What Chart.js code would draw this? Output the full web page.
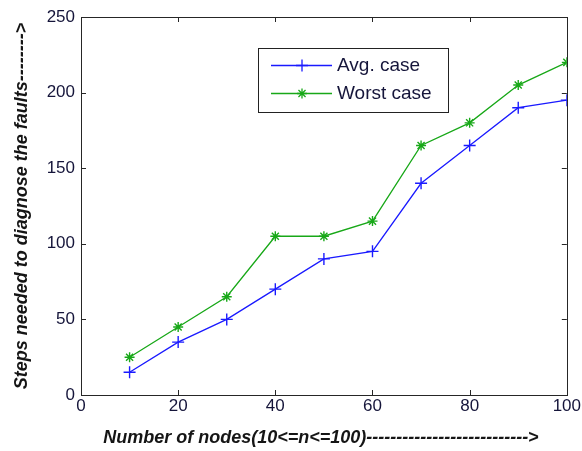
<!DOCTYPE html>
<html>
<head>
<meta charset="utf-8">
<script src="https://cdn.jsdelivr.net/npm/chart.js@4"></script>
<style>
html,body{margin:0;padding:0;background:#fff;}
#c{display:block;}
</style>
</head>
<body>
<canvas id="c" width="582" height="451"></canvas>
<script>
const nodes = [10, 20, 30, 40, 50, 60, 70, 80, 90, 100];
const avgCase = [15, 35, 50, 70, 90, 95, 140, 165, 190, 195];
const worstCase = [25, 45, 65, 105, 105, 115, 165, 180, 205, 220];
const xTicks = [0, 20, 40, 60, 80, 100];
const yTicks = [0, 50, 100, 150, 200, 250];
const seriesNames = ['Avg. case', 'Worst case'];
const xTitle = 'Number of nodes(10<=n<=100)--------------------------->';
const yTitle = 'Steps needed to diagnose the faults-------->';

const FONT = '"Liberation Sans", Arial, Helvetica, sans-serif';
const BLUE = '#1a1aff';
const GREEN = '#18a818';
const AXIS = '#262626';

function toXY(ys){ return nodes.map((x,i)=>({x:x, y:ys[i]})); }

function drawMarker(ctx, style, x, y, r, color){
  ctx.save();
  ctx.strokeStyle = color; ctx.lineWidth = 1.3;
  ctx.beginPath();
  ctx.moveTo(x-r, y); ctx.lineTo(x+r, y);
  ctx.moveTo(x, y-r); ctx.lineTo(x, y+r);
  if (style === 'star'){
    const d = r*Math.SQRT1_2;
    ctx.moveTo(x-d, y-d); ctx.lineTo(x+d, y+d);
    ctx.moveTo(x-d, y+d); ctx.lineTo(x+d, y-d);
  }
  ctx.stroke();
  ctx.restore();
}

const framePlugin = {
  id: 'frame',
  afterDraw(chart){
    const ctx = chart.ctx;
    const a = chart.chartArea;
    const xs = chart.scales.x, ys = chart.scales.y;
    ctx.save();
    ctx.strokeStyle = AXIS; ctx.lineWidth = 1;
    ctx.strokeRect(Math.round(a.left)+0.5, Math.round(a.top)+0.5, Math.round(a.right-a.left), Math.round(a.bottom-a.top));
    ctx.beginPath();
    const tl = 5;
    xTicks.forEach(v=>{
      if (v === xs.min || v === xs.max) return;
      const px = Math.round(xs.getPixelForValue(v))+0.5;
      ctx.moveTo(px, a.bottom); ctx.lineTo(px, a.bottom-tl);
      ctx.moveTo(px, a.top); ctx.lineTo(px, a.top+tl);
    });
    yTicks.forEach(v=>{
      if (v === ys.min || v === ys.max) return;
      const py = Math.round(ys.getPixelForValue(v))+0.5;
      ctx.moveTo(a.left, py); ctx.lineTo(a.left+tl, py);
      ctx.moveTo(a.right, py); ctx.lineTo(a.right-tl, py);
    });
    ctx.stroke();

    // axis titles
    ctx.fillStyle = '#151515';
    ctx.font = 'italic bold 18px ' + FONT;
    ctx.textAlign = 'center'; ctx.textBaseline = 'middle';
    ctx.fillText(xTitle, (a.left+a.right)/2 - 3, 438);
    ctx.save();
    ctx.translate(22, (a.top+a.bottom)/2);
    ctx.rotate(-Math.PI/2);
    ctx.fillText(yTitle, 0, 0);
    ctx.restore();

    // legend
    const lx = 258.5, ly = 48.5, lw = 190, lh = 64;
    ctx.fillStyle = '#fff';
    ctx.fillRect(lx, ly, lw, lh);
    ctx.strokeStyle = '#222'; ctx.lineWidth = 1;
    ctx.strokeRect(lx, ly, lw, lh);
    const rows = [
      {name: seriesNames[0], color: BLUE, style: 'cross', y: 65},
      {name: seriesNames[1], color: GREEN, style: 'star', y: 93}
    ];
    rows.forEach(r=>{
      ctx.strokeStyle = r.color; ctx.lineWidth = 1.3;
      ctx.beginPath(); ctx.moveTo(271, r.y+0.5); ctx.lineTo(332, r.y+0.5); ctx.stroke();
      drawMarker(ctx, r.style, 302, r.y+0.5, r.style==='star'?5:6, r.color);
      ctx.fillStyle = '#15153a';
      ctx.font = '19px ' + FONT;
      ctx.textAlign = 'left'; ctx.textBaseline = 'middle';
      ctx.fillText(r.name, 337, r.y+1);
    });
    ctx.restore();
  }
};

new Chart(document.getElementById('c'), {
  type: 'line',
  data: {
    datasets: [
      {
        label: seriesNames[0], data: toXY(avgCase),
        borderColor: BLUE, backgroundColor: BLUE, borderWidth: 1.3,
        pointStyle: 'cross', pointRadius: 6, pointBorderWidth: 1.4,
        pointBorderColor: BLUE, tension: 0, fill: false
      },
      {
        label: seriesNames[1], data: toXY(worstCase),
        borderColor: GREEN, backgroundColor: GREEN, borderWidth: 1.3,
        pointStyle: 'star', pointRadius: 5, pointBorderWidth: 1.4,
        pointBorderColor: GREEN, tension: 0, fill: false
      }
    ]
  },
  options: {
    responsive: false,
    animation: false,
    devicePixelRatio: 1,
    layout: { padding: { top: 17, right: 15, left: 0, bottom: 0 } },
    plugins: { legend: { display: false }, tooltip: { enabled: false }, title: { display: false } },
    scales: {
      x: {
        type: 'linear', min: 0, max: 100,
        afterBuildTicks: s => { s.ticks = xTicks.map(v=>({value:v})); },
        afterFit: s => { s.height = 56; },
        grid: { display: false, drawTicks: false },
        border: { display: false },
        ticks: { color: '#15153a', font: { family: FONT, size: 17 }, padding: 1, maxRotation: 0, autoSkip: false }
      },
      y: {
        type: 'linear', min: 0, max: 250,
        afterBuildTicks: s => { s.ticks = yTicks.map(v=>({value:v})); },
        afterFit: s => { s.width = 81; },
        grid: { display: false, drawTicks: false },
        border: { display: false },
        ticks: { color: '#15153a', font: { family: FONT, size: 17 }, padding: 6, autoSkip: false }
      }
    }
  },
  plugins: [framePlugin]
});
</script>
</body>
</html>
